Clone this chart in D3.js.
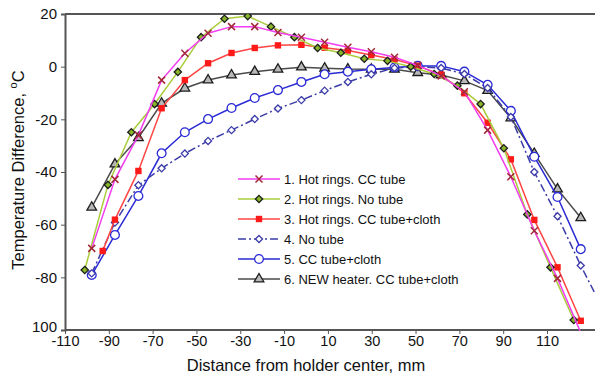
<!DOCTYPE html>
<html>
<head>
<meta charset="utf-8">
<script src="https://cdn.jsdelivr.net/npm/d3@7"></script>
<style>
    body { margin: 0; background: #fff; }
    text { font-family: 'Liberation Sans', Arial, sans-serif; fill: #111; }
</style>
</head>
<body>
<svg id="chart" width="595" height="382"></svg>
<script>
'use strict';

// tick labels
const xTicks = [-110, -90, -70, -50, -30, -10, 10, 30, 50, 70, 90, 110];
const yTicks = [20, 0, -20, -40, -60, -80, -100];

// measurement positions, mm
const xPos = [-97.8, -87.2, -76.5, -65.9, -55.3, -44.7, -34.0, -23.4, -12.8, -2.1, 8.5,
    19.1, 29.8, 40.4, 51.0, 61.7, 72.3, 82.9, 93.5, 104.2, 114.8, 125.4];
const xPosGreen = [-101.0, -90.4, -79.7, -69.1, -58.5, -47.9, -37.2, -26.6, -16.0, -5.3, 5.3,
    15.9, 26.6, 37.2, 47.8, 58.5, 69.1, 79.7, 90.3, 101.0, 111.6, 122.2];
const xPosRed = [-92.8, -87.2, -76.5, -65.9, -55.3, -44.7, -34.0, -23.4, -12.8, -2.1, 8.5,
    19.1, 29.8, 40.4, 51.0, 61.7, 72.3, 82.9, 93.5, 104.2, 114.8, 125.4];
const xPosNoTube = xPos.concat([136.0]);

// temperature difference, C
const hotRingsCC = [-69.0, -42.8, -26.0, -5.1, 5.1, 12.7, 15.2, 15.2, 13.0, 11.2, 9.3,
    7.4, 5.7, 3.6, 0.5, -3.5, -9.5, -24.1, -41.8, -62.3, -80.4, -101.0];
const hotRingsNoTube = [-77.2, -44.9, -24.9, -14.2, -2.0, 11.2, 18.2, 19.2, 15.2, 11.2, 7.1,
    5.3, 3.0, 2.2, 0.0, -2.8, -7.2, -14.2, -31.0, -56.1, -76.2, -96.2];
const hotRingsCloth = [-70.0, -58.1, -39.6, -15.8, -5.1, 1.3, 5.2, 7.1, 8.1, 8.3, 7.2,
    6.1, 4.4, 2.7, 0.3, -3.0, -10.1, -21.3, -35.2, -58.2, -76.2, -96.5];
const noTube = [-78.5, -59.2, -45.0, -38.6, -33.0, -28.2, -24.1, -19.9, -15.9, -12.7, -9.1,
    -5.8, -2.9, -0.5, -0.1, -0.5, -2.8, -8.1, -19.1, -40.0, -56.8, -75.5, -92.8];
const ccTubeCloth = [-79.1, -63.9, -49.1, -32.9, -24.9, -19.9, -15.7, -11.9, -8.9, -5.8, -2.9,
    -1.9, -1.0, -0.3, 0.3, 0.3, -1.9, -6.9, -16.8, -34.2, -49.5, -69.3];
const newHeater = [-53.4, -37.0, -27.0, -13.9, -8.2, -5.1, -3.2, -1.9, -1.0, -0.2, -0.6,
    -0.9, -1.0, -1.0, -2.3, -3.2, -5.4, -9.1, -19.5, -33.0, -46.5, -57.4];

const legendNames = ['1. Hot rings. CC tube', '2. Hot rings. No tube', '3. Hot rings. CC tube+cloth',
    '4. No tube', '5. CC tube+cloth', '6. NEW heater. CC tube+cloth'];

const series = [
    {name: legendNames[0], xs: xPos, ys: hotRingsCC, color: '#f23cf0', marker: 'x', dash: null},
    {name: legendNames[1], xs: xPosGreen, ys: hotRingsNoTube, color: '#a9cc3a', marker: 'gdiamond', dash: null},
    {name: legendNames[2], xs: xPosRed, ys: hotRingsCloth, color: '#ff4444', marker: 'square', dash: null},
    {name: legendNames[3], xs: xPosNoTube, ys: noTube, color: '#3c3ca8', marker: 'diamond', dash: '8,3,2,3'},
    {name: legendNames[4], xs: xPos, ys: ccTubeCloth, color: '#2a2ad6', marker: 'circle', dash: null},
    {name: legendNames[5], xs: xPos, ys: newHeater, color: '#4a4a4a', marker: 'triangle', dash: null}
];

const svg = d3.select('#chart');
const plotLeft = 65, plotTop = 14, plotBottom = 330;

const x = d3.scaleLinear().domain([-110, 110]).range([plotLeft, 547]);
const y = d3.scaleLinear().domain([-100, 20]).range([plotBottom, plotTop]);

svg.append('defs').append('clipPath').attr('id', 'plot-clip')
    .append('rect').attr('x', plotLeft).attr('y', plotTop)
    .attr('width', 600).attr('height', plotBottom - plotTop + 1);

// frame: top line runs off the right edge
svg.append('line')
    .attr('x1', plotLeft).attr('x2', 600).attr('y1', plotTop).attr('y2', plotTop)
    .attr('stroke', '#555').attr('stroke-width', 2);

const xAxis = svg.append('g')
    .attr('transform', 'translate(0,' + plotBottom + ')')
    .call(d3.axisBottom(x).tickValues(xTicks).tickSize(4).tickFormat(d => String(d)));
xAxis.select('.domain').attr('d', 'M' + plotLeft + ',0H600').attr('stroke', '#555').attr('stroke-width', 2);
xAxis.selectAll('.tick line').attr('stroke', '#555');
xAxis.selectAll('.tick text').attr('font-size', 14.5).attr('y', 6);

const yAxis = svg.append('g')
    .attr('transform', 'translate(' + plotLeft + ',0)')
    .call(d3.axisLeft(y).tickValues(yTicks).tickSize(4)
        .tickFormat(d => d === -100 ? '100' : String(d)));
yAxis.select('.domain').attr('stroke', '#555').attr('stroke-width', 2);
yAxis.selectAll('.tick line').attr('stroke', '#555');
yAxis.selectAll('.tick text').attr('font-size', 15).attr('x', -8);
// bottom label sits a touch higher so it clears the -110 below it
yAxis.selectAll('.tick text').filter(d => d === -100).attr('dy', '0.1em');

// axis titles
svg.append('text')
    .attr('x', 306).attr('y', 371)
    .attr('text-anchor', 'middle').attr('font-size', 16.5)
    .text('Distance from holder center, mm');

const yTitle = svg.append('text')
    .attr('transform', 'translate(24,170) rotate(-90)')
    .attr('text-anchor', 'middle').attr('font-size', 16.5);
yTitle.append('tspan').text('Temperature Difference, ');
yTitle.append('tspan').attr('font-size', 11).attr('dy', -7).text('o');
yTitle.append('tspan').attr('dy', 7).text('C');

function drawMarker(g, type, color) {
    if (type === 'x') {
        g.append('path').attr('d', 'M-3.5,-3.5L3.5,3.5M-3.5,3.5L3.5,-3.5')
            .attr('stroke', '#a3283a').attr('stroke-width', 1.5).attr('fill', 'none');
    } else if (type === 'gdiamond') {
        g.append('path').attr('d', d3.symbol(d3.symbolDiamond2, 34)())
            .attr('fill', '#88b52a').attr('stroke', '#1c1c1c').attr('stroke-width', 1.3);
    } else if (type === 'square') {
        g.append('rect').attr('x', -3.2).attr('y', -3.2).attr('width', 6.4).attr('height', 6.4)
            .attr('fill', '#ff1a1a');
    } else if (type === 'diamond') {
        g.append('path').attr('d', d3.symbol(d3.symbolDiamond2, 32)())
            .attr('fill', '#fff').attr('stroke', color).attr('stroke-width', 1.3);
    } else if (type === 'circle') {
        g.append('circle').attr('r', 4.4)
            .attr('fill', '#fff').attr('stroke', color).attr('stroke-width', 1.3);
    } else if (type === 'triangle') {
        g.append('path').attr('d', d3.symbol(d3.symbolTriangle, 40)())
            .attr('fill', '#b8b8b8').attr('stroke', '#1c1c1c').attr('stroke-width', 1.3);
    }
}

const plot = svg.append('g').attr('clip-path', 'url(#plot-clip)');
const line = d3.line().x(d => x(d[0])).y(d => y(d[1]));

// draw back to front: 6 first, 1 last
series.slice().reverse().forEach(s => {
    const pts = s.ys.map((v, i) => [s.xs[i], v]);
    plot.append('path')
        .datum(pts)
        .attr('d', line)
        .attr('fill', 'none')
        .attr('stroke', s.color)
        .attr('stroke-width', 1.5)
        .attr('stroke-dasharray', s.dash);
    plot.selectAll(null)
        .data(pts.filter(p => p[1] >= -100))
        .enter()
        .append('g')
        .attr('transform', p => 'translate(' + x(p[0]) + ',' + y(p[1]) + ')')
        .each(function () { drawMarker(d3.select(this), s.marker, s.color); });
});

// legend
const legend = svg.append('g');
series.forEach((s, i) => {
    const ly = 179 + i * 20;
    const row = legend.append('g');
    row.append('line')
        .attr('x1', 238).attr('x2', 280).attr('y1', ly).attr('y2', ly)
        .attr('stroke', s.color).attr('stroke-width', 1.5)
        .attr('stroke-dasharray', s.dash);
    drawMarker(row.append('g').attr('transform', 'translate(259,' + ly + ')'), s.marker, s.color);
    row.append('text')
        .attr('x', 284).attr('y', ly + 4.5)
        .attr('font-size', 13)
        .text(s.name);
});
</script>
</body>
</html>
